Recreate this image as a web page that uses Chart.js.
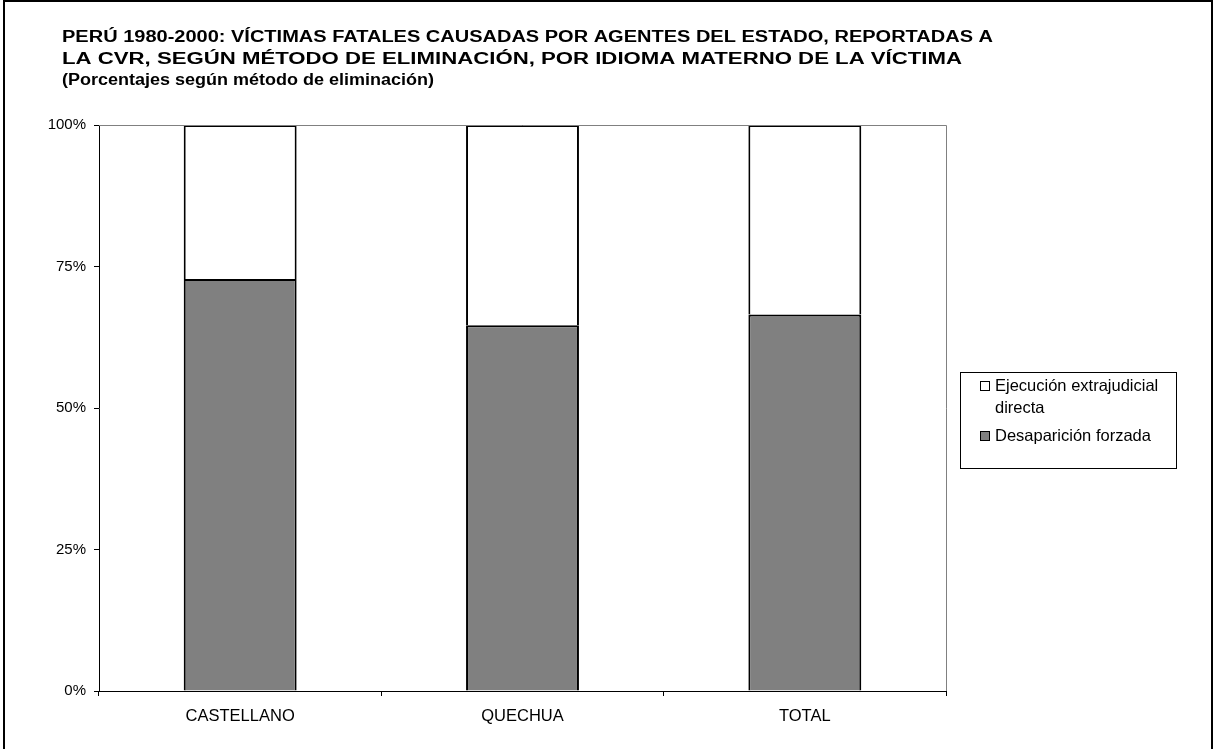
<!DOCTYPE html>
<html>
<head>
<meta charset="utf-8">
<script src="https://cdn.jsdelivr.net/npm/chart.js@4/dist/chart.umd.min.js"></script>
<style>
  html, body { margin: 0; padding: 0; background: #fff; }
  #wrap { width: 1213px; height: 749px; position: relative; }
</style>
</head>
<body>
<div id="wrap"><canvas id="c" width="1213" height="749"></canvas></div>
<script>
const categories = ['CASTELLANO', 'QUECHUA', 'TOTAL'];
const desaparicionForzada = [72.8, 64.6, 66.5];
const ejecucionExtrajudicial = [27.2, 35.4, 33.5];
const yTickValues = [0, 25, 50, 75, 100];
const titleLines = [
  'PERÚ 1980-2000: VÍCTIMAS FATALES CAUSADAS POR AGENTES DEL ESTADO, REPORTADAS A',
  'LA CVR, SEGÚN MÉTODO DE ELIMINACIÓN, POR IDIOMA MATERNO DE LA VÍCTIMA',
  '(Porcentajes según método de eliminación)'
];
const legendItems = [
  { lines: ['Ejecución extrajudicial', 'directa'], color: '#ffffff' },
  { lines: ['Desaparición forzada'], color: '#808080' }
];

const FONT = '"Liberation Sans", Arial, sans-serif';

const decor = {
  id: 'decor',
  beforeDraw(chart) {
    const ctx = chart.ctx;
    ctx.save();
    ctx.fillStyle = '#fff';
    ctx.fillRect(0, 0, chart.width, chart.height);
    ctx.restore();
  },
  afterDatasetsDraw(chart) {
    const ctx = chart.ctx;
    const a = chart.chartArea;
    ctx.save();
    ctx.strokeStyle = '#808080';
    ctx.lineWidth = 1;
    ctx.beginPath();
    ctx.moveTo(a.left, a.top + 0.5);
    ctx.lineTo(a.right + 0.5, a.top + 0.5);
    ctx.lineTo(a.right + 0.5, a.bottom);
    ctx.stroke();
    ctx.restore();
  },
  afterDraw(chart) {
    const ctx = chart.ctx;
    ctx.save();
    // outer frame
    ctx.strokeStyle = '#000';
    ctx.lineWidth = 2;
    ctx.strokeRect(4, 1, 1208, 760);
    // title lines fitted to the reference line widths
    ctx.fillStyle = '#000';
    ctx.font = 'bold 16px ' + FONT;
    ctx.textBaseline = 'alphabetic';
    ctx.textAlign = 'left';
    const widths = [931, 900, 372];
    const baselines = [42, 63.5, 85];
    titleLines.forEach((t, i) => {
      const sx = widths[i] / ctx.measureText(t).width;
      ctx.save();
      ctx.translate(62, baselines[i]);
      ctx.scale(sx, 1);
      ctx.fillText(t, 0, 0);
      ctx.restore();
    });
    // legend
    ctx.lineWidth = 1;
    ctx.strokeStyle = '#000';
    ctx.strokeRect(960.5, 372.5, 216, 96);
    ctx.font = '16.5px ' + FONT;
    ctx.textBaseline = 'middle';
    let y = 386;
    legendItems.forEach((it) => {
      ctx.fillStyle = it.color;
      ctx.fillRect(980.5, y - 4.5, 9, 9);
      ctx.strokeStyle = '#000';
      ctx.strokeRect(980.5, y - 4.5, 9, 9);
      ctx.fillStyle = '#000';
      it.lines.forEach((ln, j) => {
        ctx.fillText(ln, 995, y + j * 22);
      });
      y += it.lines.length * 22 + 6;
    });
    ctx.restore();
  }
};

new Chart(document.getElementById('c'), {
  type: 'bar',
  data: {
    labels: categories,
    datasets: [
      {
        label: 'Desaparición forzada',
        data: desaparicionForzada,
        backgroundColor: '#808080',
        borderColor: '#000',
        borderWidth: 2,
        barPercentage: 0.4,
        categoryPercentage: 1.0
      },
      {
        label: 'Ejecución extrajudicial directa',
        data: ejecucionExtrajudicial,
        backgroundColor: '#ffffff',
        borderColor: '#000',
        borderWidth: 2,
        barPercentage: 0.4,
        categoryPercentage: 1.0
      }
    ]
  },
  options: {
    responsive: false,
    animation: false,
    devicePixelRatio: 1,
    layout: { padding: { left: 40, right: 267, top: 125, bottom: 0 } },
    plugins: {
      legend: { display: false },
      title: { display: false },
      tooltip: { enabled: false }
    },
    scales: {
      x: {
        stacked: true,
        afterFit(s) { s.height = 58; },
        grid: { display: true, offset: true, drawOnChartArea: false, drawTicks: true, tickLength: 5, color: '#000' },
        border: { display: true, color: '#000', width: 1 },
        ticks: { color: '#000', font: { family: FONT, size: 16.5 }, padding: 11 }
      },
      y: {
        stacked: true,
        min: 0,
        max: 100,
        afterFit(s) { s.width = 59; },
        afterBuildTicks(s) { s.ticks = yTickValues.map(v => ({ value: v })); },
        grid: { display: true, drawOnChartArea: false, drawTicks: true, tickLength: 5, color: '#000' },
        border: { display: true, color: '#000', width: 1 },
        ticks: { color: '#000', font: { family: FONT, size: 15 }, padding: 8, callback: v => v + '%' }
      }
    }
  },
  plugins: [decor]
});
</script>
</body>
</html>
